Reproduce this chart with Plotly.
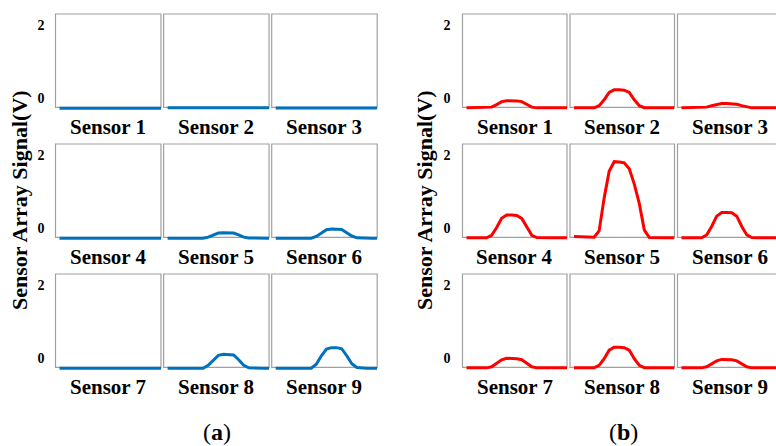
import plotly.graph_objects as go

W, H = 776, 446

# ---------------- data ----------------
t = list(range(21))
sensor_labels = ["Sensor 1", "Sensor 2", "Sensor 3", "Sensor 4", "Sensor 5",
                 "Sensor 6", "Sensor 7", "Sensor 8", "Sensor 9"]
y_tick_vals = [0, 2]
y_tick_text = ["0", "2"]
y_title = "Sensor Array Signal(V)"
captions = ["(<b>a</b>)", "(<b>b</b>)"]

# panel (a) - blue
a_s1 = [-0.27, -0.27, -0.27, -0.27, -0.27, -0.27, -0.27, -0.27, -0.265, -0.26, -0.26,
        -0.26, -0.26, -0.26, -0.265, -0.27, -0.27, -0.27, -0.27, -0.27, -0.27]
a_s2 = [-0.26, -0.26, -0.26, -0.26, -0.255, -0.255, -0.255, -0.255, -0.255, -0.255, -0.255,
        -0.255, -0.255, -0.255, -0.255, -0.255, -0.26, -0.26, -0.26, -0.26, -0.26]
a_s3 = [-0.265, -0.265, -0.265, -0.265, -0.26, -0.26, -0.26, -0.26, -0.26, -0.26, -0.26,
        -0.26, -0.26, -0.26, -0.26, -0.26, -0.265, -0.265, -0.265, -0.265, -0.265]
a_s4 = [-0.27, -0.27, -0.27, -0.27, -0.27, -0.27, -0.27, -0.27, -0.27, -0.27, -0.27,
        -0.27, -0.27, -0.27, -0.27, -0.27, -0.27, -0.27, -0.27, -0.27, -0.27]
a_s5 = [-0.27, -0.27, -0.27, -0.27, -0.27, -0.27, -0.27, -0.27, -0.24, -0.18, -0.13,
        -0.12, -0.12, -0.13, -0.18, -0.24, -0.265, -0.27, -0.27, -0.27, -0.27]
a_s6 = [-0.27, -0.27, -0.27, -0.27, -0.27, -0.27, -0.27, -0.27, -0.22, -0.12, -0.04,
        -0.02, -0.02, -0.03, -0.12, -0.21, -0.26, -0.27, -0.27, -0.27, -0.27]
a_s7 = [-0.27, -0.27, -0.27, -0.27, -0.27, -0.27, -0.27, -0.27, -0.27, -0.265, -0.26,
        -0.255, -0.255, -0.26, -0.262, -0.267, -0.27, -0.27, -0.27, -0.27, -0.27]
a_s8 = [-0.27, -0.27, -0.27, -0.27, -0.27, -0.27, -0.27, -0.27, -0.19, -0.04, 0.08,
        0.11, 0.11, 0.09, -0.04, -0.19, -0.26, -0.27, -0.27, -0.27, -0.27]
a_s9 = [-0.27, -0.27, -0.27, -0.27, -0.27, -0.27, -0.27, -0.27, -0.16, 0.07, 0.25,
        0.29, 0.29, 0.26, 0.07, -0.15, -0.25, -0.27, -0.27, -0.27, -0.27]

# panel (b) - red
b_s1 = [-0.26, -0.26, -0.26, -0.26, -0.26, -0.24, -0.17, -0.09, -0.065, -0.065, -0.07,
        -0.09, -0.17, -0.24, -0.26, -0.26, -0.26, -0.26, -0.26, -0.26, -0.26]
b_s2 = [-0.26, -0.26, -0.26, -0.26, -0.26, -0.20, -0.04, 0.16, 0.23, 0.23, 0.22,
        0.16, -0.04, -0.20, -0.255, -0.26, -0.26, -0.26, -0.26, -0.26, -0.26]
b_s3 = [-0.26, -0.26, -0.26, -0.26, -0.26, -0.24, -0.20, -0.16, -0.14, -0.14, -0.14,
        -0.16, -0.20, -0.24, -0.26, -0.26, -0.26, -0.26, -0.26, -0.26, -0.26]
b_s4 = [-0.26, -0.26, -0.26, -0.26, -0.26, -0.19, 0.02, 0.27, 0.36, 0.36, 0.35,
        0.27, 0.02, -0.19, -0.25, -0.26, -0.26, -0.26, -0.26, -0.26, -0.26]
b_s5 = [-0.22, -0.22, -0.22, -0.22, -0.24, -0.07, 0.82, 1.55, 1.81, 1.80, 1.78,
        1.62, 1.20, 0.67, -0.05, -0.25, -0.26, -0.26, -0.26, -0.26, -0.26]
b_s6 = [-0.26, -0.26, -0.26, -0.26, -0.26, -0.18, 0.05, 0.33, 0.43, 0.43, 0.42,
        0.33, 0.05, -0.18, -0.25, -0.26, -0.26, -0.26, -0.26, -0.26, -0.26]
b_s7 = [-0.26, -0.26, -0.26, -0.26, -0.26, -0.23, -0.14, -0.04, 0.0, 0.0, -0.01,
        -0.04, -0.14, -0.23, -0.26, -0.26, -0.26, -0.26, -0.26, -0.26, -0.26]
b_s8 = [-0.26, -0.26, -0.26, -0.26, -0.26, -0.19, -0.01, 0.22, 0.30, 0.30, 0.29,
        0.22, -0.01, -0.19, -0.255, -0.26, -0.26, -0.26, -0.26, -0.26, -0.26]
b_s9 = [-0.26, -0.26, -0.26, -0.26, -0.26, -0.23, -0.16, -0.07, -0.03, -0.03, -0.04,
        -0.07, -0.16, -0.23, -0.26, -0.26, -0.26, -0.26, -0.26, -0.26, -0.26]

panel_a = [a_s1, a_s2, a_s3, a_s4, a_s5, a_s6, a_s7, a_s8, a_s9]
panel_b = [b_s1, b_s2, b_s3, b_s4, b_s5, b_s6, b_s7, b_s8, b_s9]

# ---------------- layout geometry (pixels) ----------------
panels = [
    dict(data=panel_a, color="#0072BD", x0=55.5, pitch=108.1, bw=105.5,
         title_x=20, tick_standoff=10, caption_x=217),
    dict(data=panel_b, color="#FF0000", x0=462.5, pitch=107.5, bw=104.5,
         title_x=425, tick_standoff=11, caption_x=623),
]
row_top = [14, 144, 274]
row_bot = [107.3, 237.3, 367.3]
row_zero = [98.3, 228.3, 358.3]
PPV = 36.8        # pixels per volt
INSET = 4.0       # line starts this many px inside the box
SERIF = "Liberation Serif"
BOX_COLOR = "#a0a0a0"


def px(x):
    return x / W


def py(y):
    return 1 - y / H


fig = go.Figure()
shapes = []
annotations = []
k = 0
for p_i, p in enumerate(panels):
    for idx in range(9):
        r, c = divmod(idx, 3)
        k += 1
        xa = "x" if k == 1 else f"x{k}"
        ya = "y" if k == 1 else f"y{k}"
        bx0 = p["x0"] + c * p["pitch"]
        bx1 = bx0 + p["bw"]
        dx1 = min(bx1, W)
        ppu = (p["bw"] - INSET) / (len(t) - 1)
        rmin = -INSET / ppu
        rmax = rmin + (dx1 - bx0) / ppu

        top, bot, zero = row_top[r], row_bot[r], row_zero[r]
        dom_bot = bot + 4
        yr = [(zero - dom_bot) / PPV, (zero - top) / PPV]

        fig.add_trace(go.Scatter(
            x=t, y=p["data"][idx], mode="lines",
            line=dict(color=p["color"], width=3),
            xaxis=xa, yaxis=ya, showlegend=False, hoverinfo="skip"))

        xkey = "xaxis" if k == 1 else f"xaxis{k}"
        ykey = "yaxis" if k == 1 else f"yaxis{k}"
        fig.layout[xkey] = dict(domain=[px(bx0), px(dx1)], range=[rmin, rmax],
                                visible=False, anchor=ya, fixedrange=True)
        fig.layout[ykey] = dict(
            domain=[py(dom_bot), py(top)], range=yr, anchor=xa,
            showgrid=False, zeroline=False, showline=False,
            tickvals=y_tick_vals, ticktext=y_tick_text, ticks="",
            showticklabels=(c == 0), ticklabelstandoff=p["tick_standoff"],
            tickfont=dict(family=SERIF, size=14, color="black", weight="bold"),
            fixedrange=True)

        shapes.append(dict(type="rect", xref="paper", yref="paper",
                           x0=px(bx0), x1=px(bx1), y0=py(bot), y1=py(top),
                           line=dict(color=BOX_COLOR, width=1.2), layer="below"))

        annotations.append(dict(
            text=f"<b>{sensor_labels[idx]}</b>", xref="paper", yref="paper",
            x=px((bx0 + bx1) / 2), y=py(126.5 + 130 * r),
            xanchor="center", yanchor="middle", showarrow=False,
            font=dict(family=SERIF, size=21, color="black")))

    annotations.append(dict(
        text=f"<b>{y_title}</b>", xref="paper", yref="paper",
        x=px(p["title_x"]), y=py(200), textangle=-90,
        xanchor="center", yanchor="middle", showarrow=False,
        font=dict(family=SERIF, size=22, color="black")))
    annotations.append(dict(
        text=captions[p_i], xref="paper", yref="paper",
        x=px(p["caption_x"]), y=py(432), xanchor="center", yanchor="middle",
        showarrow=False, font=dict(family=SERIF, size=24, color="black")))

fig.update_layout(
    width=W, height=H, autosize=False,
    margin=dict(l=0, r=0, t=0, b=0),
    paper_bgcolor="white", plot_bgcolor="rgba(0,0,0,0)",
    shapes=shapes, annotations=annotations, showlegend=False)

fig.write_html("out.html", config={"displayModeBar": False})
